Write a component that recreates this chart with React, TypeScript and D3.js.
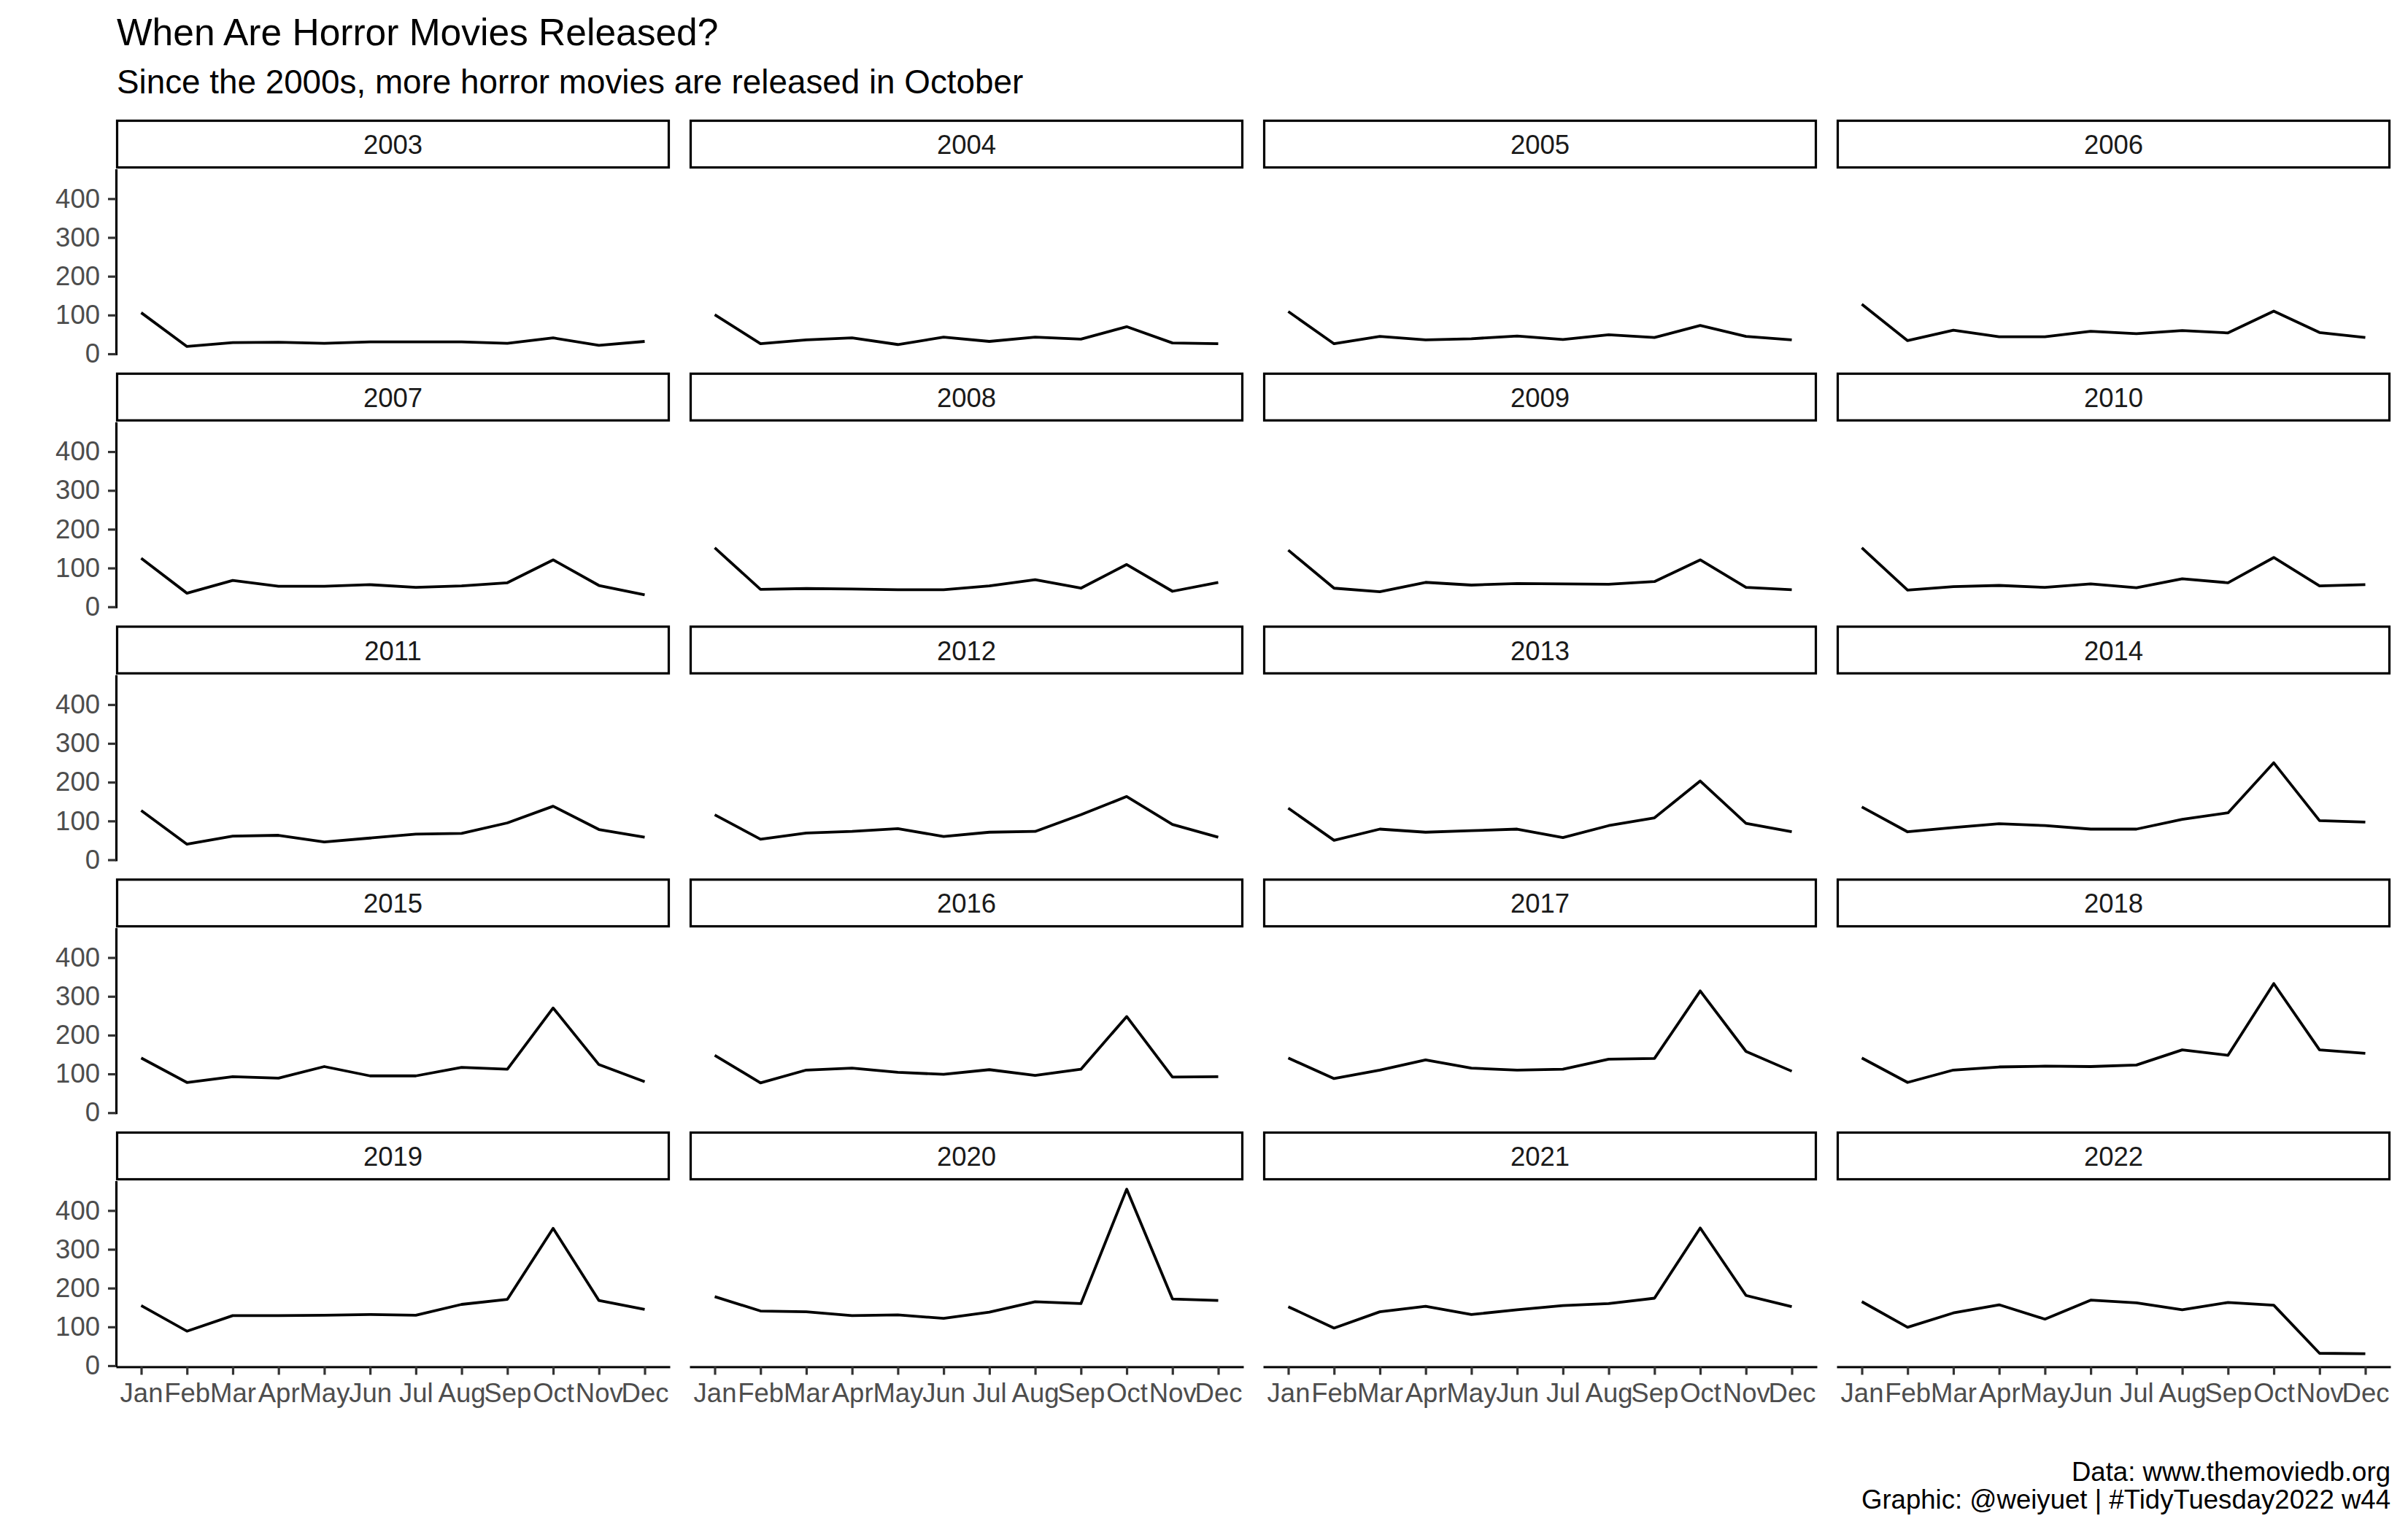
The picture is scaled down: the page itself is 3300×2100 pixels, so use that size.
import React, { useEffect, useRef } from "react";
import * as d3 from "d3";

// monthly horror releases per year
const months = ["Jan", "Feb", "Mar", "Apr", "May", "Jun", "Jul", "Aug", "Sep", "Oct", "Nov", "Dec"];
const yearLabels = [
  "2003", "2004", "2005", "2006", "2007", "2008", "2009", "2010", "2011", "2012",
  "2013", "2014", "2015", "2016", "2017", "2018", "2019", "2020", "2021", "2022",
];
const yTicks = [0, 100, 200, 300, 400];

const v2003 = [106, 19, 29, 30, 27, 31, 31, 31, 27, 41, 22, 32];
const v2004 = [101, 26, 36, 41, 24, 43, 32, 43, 38, 70, 28, 26];
const v2005 = [109, 26, 45, 36, 39, 46, 37, 49, 42, 73, 45, 36];
const v2006 = [128, 34, 61, 44, 44, 58, 52, 60, 54, 110, 55, 42];
const v2007 = [125, 35, 68, 53, 53, 57, 50, 54, 62, 121, 55, 31];
const v2008 = [152, 45, 47, 46, 44, 44, 54, 70, 48, 109, 40, 63];
const v2009 = [146, 48, 39, 63, 56, 60, 59, 58, 65, 121, 50, 44];
const v2010 = [152, 43, 52, 55, 50, 59, 49, 72, 62, 127, 54, 57];
const v2011 = [127, 40, 61, 63, 46, 56, 66, 68, 95, 138, 78, 58];
const v2012 = [116, 53, 69, 73, 80, 60, 71, 73, 116, 163, 91, 58];
const v2013 = [133, 50, 79, 71, 75, 79, 57, 88, 108, 203, 94, 72];
const v2014 = [136, 72, 83, 93, 88, 79, 79, 104, 121, 250, 101, 97];
const v2015 = [141, 78, 93, 89, 119, 95, 95, 117, 112, 270, 124, 80];
const v2016 = [148, 77, 110, 115, 104, 99, 111, 96, 112, 248, 92, 93];
const v2017 = [141, 88, 110, 136, 115, 110, 112, 138, 140, 314, 158, 107];
const v2018 = [141, 78, 110, 118, 120, 119, 123, 162, 148, 333, 162, 153];
const v2019 = [155, 89, 129, 129, 130, 132, 130, 158, 171, 354, 168, 145];
const v2020 = [178, 141, 139, 129, 131, 122, 138, 165, 160, 455, 172, 168];
const v2021 = [152, 97, 139, 153, 132, 144, 155, 160, 174, 355, 181, 152];
const v2022 = [165, 99, 136, 157, 120, 169, 162, 144, 163, 156, 32, 31];

const releases = [
  v2003, v2004, v2005, v2006, v2007, v2008, v2009, v2010, v2011, v2012,
  v2013, v2014, v2015, v2016, v2017, v2018, v2019, v2020, v2021, v2022,
];

const width = 3300;
const height = 2100;
const panelLeft = 159;
const panelStep = 786;
const panelW = 759;
const rowTop = 164;
const rowStep = 346.75;
const stripH = 67;
const panelH = 255;
const nCol = 4;
const font = "'Liberation Sans', Arial, Helvetica, sans-serif";

export default function App() {
  const ref = useRef<SVGSVGElement>(null);

  useEffect(() => {
    const svg = d3.select(ref.current);
    svg.selectAll("*").remove();
    svg.append("rect").attr("width", width).attr("height", height).attr("fill", "white");

    const all = releases.flat();
    const lo = d3.min(all) as number;
    const hi = d3.max(all) as number;
    const pad = (hi - lo) * 0.05;

    const x = d3.scaleLinear().domain([1 - 0.55, 12 + 0.55]).range([0, panelW]);
    const y = d3.scaleLinear().domain([lo - pad, hi + pad]).range([panelH, 0]);
    const line = d3
      .line<number>()
      .x((_, i) => x(i + 1))
      .y((d) => y(d));

    svg
      .append("text")
      .attr("x", 160)
      .attr("y", 62)
      .attr("font-family", font)
      .attr("font-size", 51.5)
      .attr("fill", "black")
      .text("When Are Horror Movies Released?");
    svg
      .append("text")
      .attr("x", 160)
      .attr("y", 128)
      .attr("font-family", font)
      .attr("font-size", 45.8)
      .attr("fill", "black")
      .text("Since the 2000s, more horror movies are released in October");

    const nRow = Math.ceil(yearLabels.length / nCol);

    yearLabels.forEach((yr, i) => {
      const col = i % nCol;
      const row = Math.floor(i / nCol);
      const px = panelLeft + col * panelStep;
      const sy = rowTop + row * rowStep;
      const py = sy + stripH + 0.5;

      const strip = svg.append("g").attr("transform", `translate(${px},${sy})`);
      strip
        .append("rect")
        .attr("x", 1.5)
        .attr("y", 1.5)
        .attr("width", panelW - 3)
        .attr("height", stripH - 3)
        .attr("fill", "white")
        .attr("stroke", "black")
        .attr("stroke-width", 3.2);
      strip
        .append("text")
        .attr("x", panelW / 2)
        .attr("y", 47)
        .attr("text-anchor", "middle")
        .attr("font-family", font)
        .attr("font-size", 36.5)
        .attr("fill", "#1A1A1A")
        .text(yr);

      const panel = svg.append("g").attr("transform", `translate(${px},${py})`);
      panel
        .append("path")
        .datum(releases[i])
        .attr("d", line)
        .attr("fill", "none")
        .attr("stroke", "black")
        .attr("stroke-width", 3.8)
        .attr("stroke-linejoin", "round");

      if (col === 0) {
        const ya = panel
          .append("g")
          .call(d3.axisLeft(y).tickValues(yTicks).tickSize(11).tickSizeOuter(0).tickPadding(11));
        ya.attr("font-family", font).attr("font-size", 36.5);
        ya.select(".domain").attr("stroke", "black").attr("stroke-width", 3.2);
        ya.selectAll(".tick line").attr("stroke", "#333333").attr("stroke-width", 3.2);
        ya.selectAll(".tick text").attr("fill", "#4D4D4D");
      }

      if (row === nRow - 1) {
        const xa = panel
          .append("g")
          .attr("transform", `translate(0,${panelH})`)
          .call(
            d3
              .axisBottom(x)
              .tickValues(d3.range(1, 13))
              .tickFormat((d) => months[(d as number) - 1])
              .tickSize(11)
              .tickSizeOuter(0)
              .tickPadding(12)
          );
        xa.attr("font-family", font).attr("font-size", 36.5);
        xa.select(".domain").attr("stroke", "black").attr("stroke-width", 3.2);
        xa.selectAll(".tick line").attr("stroke", "#333333").attr("stroke-width", 3.2);
        xa.selectAll(".tick text").attr("fill", "#4D4D4D");
      }
    });

    const caption = ["Data: www.themoviedb.org", "Graphic: @weiyuet | #TidyTuesday2022 w44"];
    caption.forEach((c, i) => {
      svg
        .append("text")
        .attr("x", 3276)
        .attr("y", 2030 + i * 38)
        .attr("text-anchor", "end")
        .attr("font-family", font)
        .attr("font-size", 36.6)
        .attr("fill", "black")
        .text(c);
    });
  });

  return (
    <svg
      ref={ref}
      width={width}
      height={height}
      style={{ position: "absolute", left: 0, top: 0 }}
    />
  );
}
